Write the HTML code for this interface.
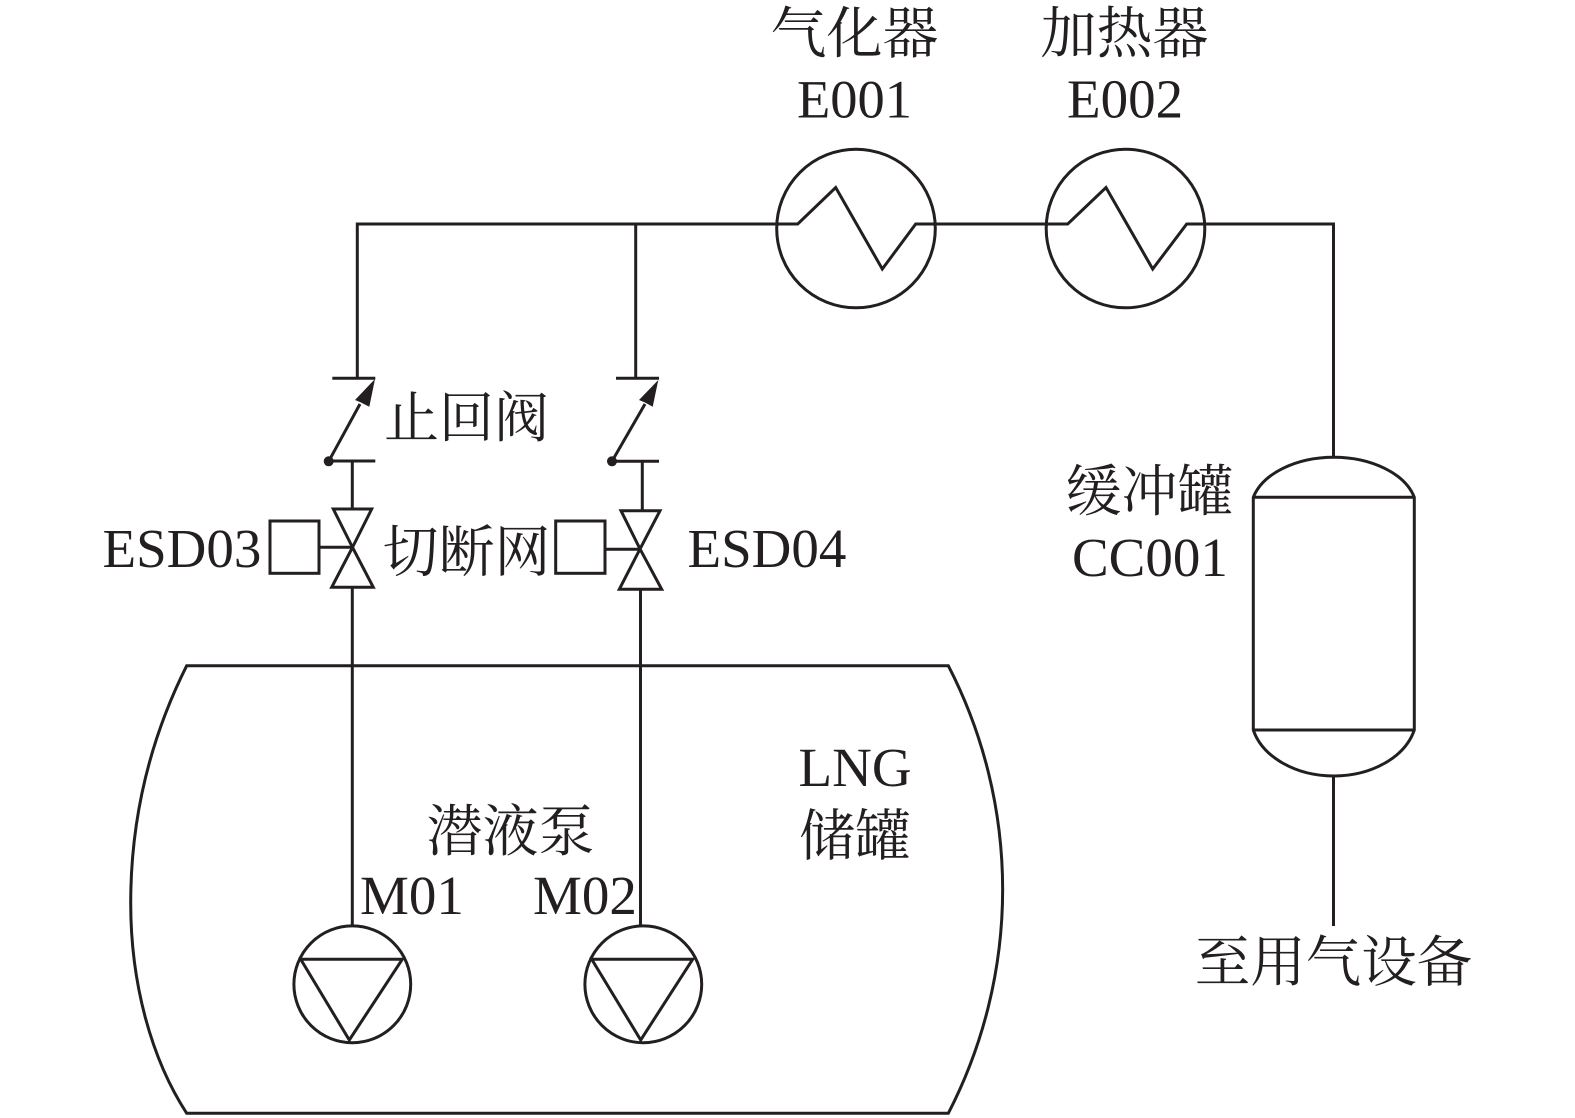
<!DOCTYPE html>
<html>
<head>
<meta charset="utf-8">
<style>
html,body{margin:0;padding:0;background:#fff;}
svg{display:block;}
text{font-family:"Liberation Serif","Noto Serif CJK SC",serif;fill:#231f20;}
.c{font-size:56px;text-anchor:middle;}
.e{font-size:55px;text-anchor:start;}
.l{fill:none;stroke:#231f20;stroke-width:3;}
</style>
</head>
<body>
<svg width="1575" height="1118" viewBox="0 0 1575 1118" xmlns="http://www.w3.org/2000/svg">
<text class="c" x="854.500" y="53">气化器</text>
<text class="e" style="font-size:54.500px" x="797" y="117.500">E001</text>
<text class="c" x="1124.500" y="53">加热器</text>
<text class="e" x="1067" y="117.500">E002</text>
<text class="c" style="font-size:55px" x="466.500" y="437">止回阀</text>
<text class="e" x="102.500" y="567">ESD03</text>
<text class="c" x="466.500" y="571.500">切断网</text>
<text class="e" x="687.500" y="567">ESD04</text>
<text class="c" x="1149.500" y="511">缓冲罐</text>
<text class="e" x="1072" y="576">CC001</text>
<text class="e" x="798.500" y="786">LNG</text>
<text class="c" x="855" y="855.500">储罐</text>
<text class="c" x="510.500" y="851">潜液泵</text>
<text class="e" x="360" y="914">M01</text>
<text class="e" x="533" y="914">M02</text>
<text class="c" style="font-size:55.500px" x="1333.500" y="981.500">至用气设备</text>

<!-- main pipe with heat exchanger zigzags -->
<path class="l" d="M357.300 378V224H797.700L835.700 187.500L882.300 269L915.700 224H1067.700L1106 187.500L1152.700 269L1186.700 224H1333.500V457"/>
<path class="l" d="M635.700 224V378"/>
<circle class="l" cx="856" cy="228.500" r="79.300"/>
<circle class="l" cx="1125.500" cy="228.500" r="79.300"/>

<!-- check valve 1 -->
<path class="l" d="M332.300 378.300H375.300M330.700 461H375.300M352.300 461V509M328.700 461.300L360 404"/>
<path d="M375 379L355 400L361 402.500L369.300 406.700Z" fill="#231f20"/>
<circle cx="328.700" cy="461.300" r="5" fill="#231f20"/>
<!-- check valve 2 -->
<path class="l" d="M616 378.300H659M612 461.300H659M642.300 461V510.700M612 461.300L645 404"/>
<path d="M658.300 380L639 400L645 402.500L652.700 406.700Z" fill="#231f20"/>
<circle cx="612" cy="461.300" r="5" fill="#231f20"/>

<!-- shut-off valve 1 -->
<path class="l" d="M333.300 509H371.700L352.500 547.300L373.300 587.300H331.700L352.500 547.300Z"/>
<rect class="l" x="270" y="521" width="49" height="52.300"/>
<path class="l" d="M319 547.300H352.300"/>
<!-- shut-off valve 2 -->
<path class="l" d="M621 510.700H660L640 549L661.700 589.300H619.300L640 549Z"/>
<rect class="l" x="555.700" y="521" width="49.300" height="52.300"/>
<path class="l" d="M605 549.300H640"/>

<path class="l" d="M352.300 587.300V926M640.500 589.300V926"/>
<!-- LNG tank -->
<path class="l" d="M186.700 665.700H948.300A488 488 0 0 1 948.300 1113.300H186.700C152 1060 130.700 985 130.700 903C130.700 815 152 735 186.700 665.700Z"/>
<!-- pumps -->
<circle class="l" cx="352.300" cy="984.300" r="58.400"/>
<path class="l" d="M300.700 959.300H402.300L349.300 1040Z"/>
<circle class="l" cx="643.300" cy="984.300" r="58.400"/>
<path class="l" d="M591.700 959.300H692.700L640.700 1040Z"/>

<!-- buffer tank -->
<path class="l" d="M1253.300 497.300V730A83 60.800 0 0 0 1414.300 730V497.300A83 53 0 0 0 1253.300 497.300Z"/>
<path class="l" d="M1253.300 497.300H1414.300M1253.300 730H1414.300M1333.500 776V926"/>
</svg>
</body>
</html>
